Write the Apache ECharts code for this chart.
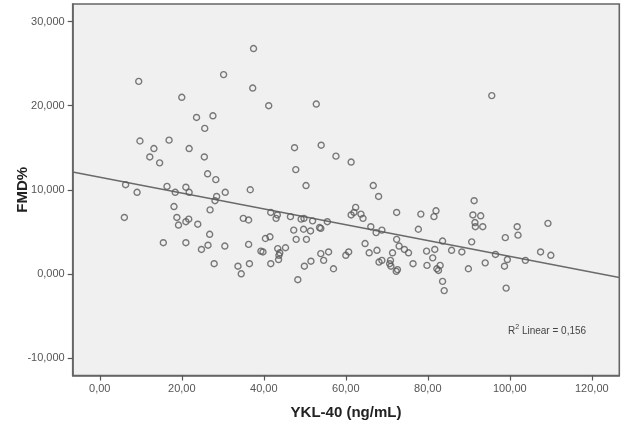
<!DOCTYPE html>
<html>
<head>
<meta charset="utf-8">
<script src="https://cdn.jsdelivr.net/npm/echarts@6/dist/echarts.min.js"></script>
<style>
html,body{margin:0;padding:0;background:#ffffff;}
#chart{width:624px;height:431px;}
</style>
</head>
<body>
<div id="chart"></div>
<script>
// YKL-40 (ng/mL) values
var ykl = [9.5,37.5,30.2,37.3,20.0,41.2,52.8,95.6,23.6,27.6,25.6,9.8,16.9,13.2,21.8,12.2,14.6,25.5,47.5,54.0,
  57.6,61.3,47.8,26.3,28.3,6.3,9.1,16.4,18.4,21.0,21.8,28.5,28.1,30.6,36.7,50.3,66.7,68.0,6.0,18.1,
  26.9,18.8,19.2,21.0,21.7,23.9,35.0,36.3,15.5,21.0,24.8,26.4,26.8,30.5,27.9,36.3,33.7,34.5,36.5,41.7,
  43.3,43.0,46.5,49.1,49.8,51.9,40.4,41.5,47.3,49.7,51.4,47.9,50.4,53.6,53.9,55.5,39.3,39.8,43.4,43.9,
  43.7,43.6,45.3,41.7,48.3,49.9,51.5,53.9,54.6,55.8,57.0,60.0,60.7,62.4,61.3,62.0,63.7,64.2,66.1,67.4,
  68.8,64.7,65.7,67.6,68.1,68.8,70.9,71.4,70.7,71.0,72.3,72.6,72.4,72.4,73.0,74.3,75.3,76.4,77.7,78.3,
  79.7,79.8,81.2,81.5,82.0,81.7,82.2,82.6,83.0,83.6,83.6,84.0,85.8,88.3,89.9,90.7,91.3,91.0,92.9,91.5,
  91.6,93.4,94.0,96.5,98.9,98.7,99.4,99.1,101.8,102.0,103.8,107.5,109.3,110.0];
// FMD% values
var fmd = [22.9,26.8,23.7,22.1,21.0,20.0,20.2,21.2,18.6,18.8,17.3,15.8,15.9,14.9,14.9,13.9,13.2,13.9,15.0,15.3,
  14.0,13.3,12.4,11.9,11.2,10.6,9.7,10.4,9.7,10.3,9.7,9.2,8.7,9.7,10.0,10.5,10.5,9.2,6.7,8.0,
  7.6,6.7,5.8,6.2,6.5,5.9,6.6,6.4,3.7,3.7,2.9,3.4,4.7,3.3,1.2,3.5,0.9,0.0,1.2,7.3,
  7.0,6.6,6.8,6.5,6.6,6.3,4.2,4.4,5.2,5.3,5.1,4.1,4.1,5.5,5.4,6.2,2.7,2.6,3.0,2.5,
  2.2,1.7,3.1,1.2,-0.7,0.9,1.5,2.4,1.6,2.6,0.6,2.2,2.6,7.9,7.0,7.3,7.1,6.6,5.6,4.9,
  5.2,3.6,2.5,2.8,1.4,1.6,1.6,2.5,1.2,0.9,0.3,0.5,4.1,7.3,3.3,2.9,2.5,1.2,5.3,7.1,
  2.7,1.0,1.9,6.8,7.5,2.9,0.6,0.4,1.0,3.9,-0.9,-2.0,2.8,2.6,0.6,3.8,8.7,7.0,6.9,6.1,
  5.6,5.6,1.3,2.3,4.3,0.9,1.7,-1.7,5.6,4.6,1.6,2.6,6.0,2.2];
// axis ticks
var xTicks = [0,20,40,60,80,100,120];
var yTicks = [-10,0,10,20,30];
var xRange = [-6.6, 126.7];
var yRange = [-12.1, 32.1];
// linear fit (as drawn in the reference)
var fitIntercept = 11.48;
var fitSlope = -0.0941;
var r2Text = '0,156';

var points = ykl.map(function(x,i){ return [x, fmd[i]]; });
var fitLine = [
  [xRange[0], fitIntercept + fitSlope*xRange[0]],
  [xRange[1], fitIntercept + fitSlope*xRange[1]]
];

var font = 'Arial, "Liberation Sans", sans-serif';
var chart = echarts.init(document.getElementById('chart'), null, {renderer:'canvas'});
chart.setOption({
  animation:false,
  backgroundColor:'#ffffff',
  title:{
    left:503, top:319,
    text:'{a|R}{s|2}{a| Linear = ' + r2Text + '}',
    textStyle:{
      fontWeight:'normal',
      rich:{
        a:{fontSize:10, fontWeight:'normal', color:'#444', fontFamily:font, verticalAlign:'bottom'},
        s:{fontSize:7, fontWeight:'normal', color:'#444', fontFamily:font, verticalAlign:'top', padding:[0,0,5,0]}
      }
    }
  },
  grid:{
    left:72.7, right:4.7, top:4, bottom:55.5,
    containLabel:false, outerBoundsMode:'none',
    show:true, backgroundColor:'#f0f0f0', borderColor:'#666', borderWidth:1.6
  },
  xAxis:{
    type:'value', min:xRange[0], max:xRange[1],
    name:'YKL-40 (ng/mL)', nameLocation:'middle', nameGap:30, nameMoveOverlap:false,
    nameTextStyle:{fontSize:15, fontWeight:'bold', color:'#222', fontFamily:font},
    axisLine:{show:true, onZero:false, lineStyle:{color:'#666', width:1.6}},
    axisTick:{show:true, inside:false, length:5, customValues:xTicks, lineStyle:{color:'#555', width:1.2}},
    axisLabel:{customValues:xTicks, margin:8, fontSize:11, color:'#555', fontFamily:font,
      formatter:function(v){ return v.toFixed(2).replace('.', ','); }},
    splitLine:{show:false}
  },
  yAxis:{
    type:'value', min:yRange[0], max:yRange[1],
    name:'FMD%', nameLocation:'middle', nameGap:42, nameRotate:90, nameMoveOverlap:false,
    nameTextStyle:{fontSize:15, fontWeight:'bold', color:'#222', fontFamily:font},
    axisLine:{show:true, onZero:false, lineStyle:{color:'#666', width:1.6}},
    axisTick:{show:true, inside:false, length:5, customValues:yTicks, lineStyle:{color:'#555', width:1.2}},
    axisLabel:{customValues:yTicks, margin:8, fontSize:11, color:'#555', fontFamily:font,
      formatter:function(v){ return v.toFixed(3).replace('.', ','); }},
    splitLine:{show:false}
  },
  series:[
    {
      type:'scatter', data:points, symbol:'circle', symbolSize:6,
      itemStyle:{color:'rgba(0,0,0,0)', borderColor:'#5a5a5a', borderWidth:1.4},
      z:3
    },
    {
      type:'line', data:fitLine, symbol:'none',
      lineStyle:{color:'#6a6a6a', width:1.5}, z:2
    }
  ]
});
</script>
</body>
</html>
